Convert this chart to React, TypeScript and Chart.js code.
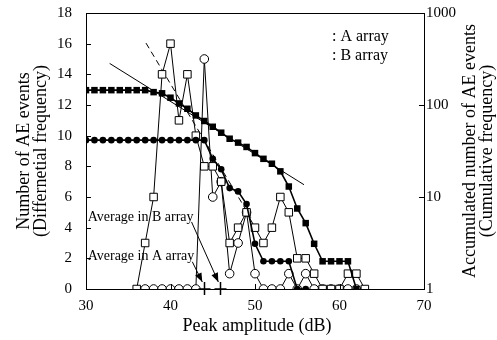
import React, { useEffect, useRef } from "react";
import { Chart, registerables } from "chart.js";

Chart.register(...registerables);

// ---- data ----
const amplitudeDiffB = [36, 37, 38, 39, 40, 41, 42, 43, 44, 45, 46, 47, 48, 49, 50, 51, 52, 53, 54, 55, 56, 57, 58, 59, 60, 61, 62, 63];
const diffB = [0, 3, 6, 14, 16, 11, 14, 10, 8, 8, 7, 3, 4, 5, 4, 3, 4, 6, 5, 2, 2, 1, 0, 0, 0, 1, 1, 0];

const amplitudeDiffA = [37, 38, 39, 40, 41, 42, 43, 44, 45, 46, 47, 48, 49, 50, 51, 52, 53, 54, 55, 56, 57, 58, 59, 60, 61, 62];
const diffA = [0, 0, 0, 0, 0, 0, 0, 15, 6, 7, 1, 3, 5, 1, 0, 0, 0, 1, 0, 1, 0, 0, 0, 0, 0, 0];

const amplitudeCumB = [30, 31, 32, 33, 34, 35, 36, 37, 38, 39, 40, 41, 42, 43, 44, 45, 46, 47, 48, 49, 50, 51, 52, 53, 54, 55, 56, 57, 58, 59, 60, 61, 62];
const cumB = [145, 145, 145, 145, 145, 145, 145, 145, 138, 134, 120, 104, 91, 77, 67, 58, 50, 43, 39, 35, 30, 26, 23, 19, 13, 7.5, 5.2, 3.1, 2, 2, 2, 2, 1];

const amplitudeCumA = [30, 31, 32, 33, 34, 35, 36, 37, 38, 39, 40, 41, 42, 43, 44, 45, 46, 47, 48, 49, 50, 51, 52, 53, 54, 55, 56];
const cumA = [41.5, 41.5, 41.5, 41.5, 41.5, 41.5, 41.5, 41.5, 41.5, 41.5, 41.5, 41.5, 41.5, 41.5, 41.5, 26, 20, 12.5, 11.5, 8.4, 3.1, 2, 2, 2, 2, 1, 1];

const fitAx = [37.1, 49.5];
const fitAy = [471, 5.95];
const fitBx = [32.8, 55.8];
const fitBy = [283, 13.6];

const averageA = 44.0;
const averageB = 45.9;

const xTicks = [30, 40, 50, 60, 70];
const yTicks = [0, 2, 4, 6, 8, 10, 12, 14, 16, 18];
const y2Ticks = [1, 10, 100, 1000];

const legendLabels = [": A array", ": B array"];
const avgLabels = ["Average in A array", "Average in B array"];

const SERIF = "'Liberation Serif', 'Times New Roman', serif";

const toXY = (xs: number[], ys: number[]) => xs.map((x, i) => ({ x, y: ys[i] }));

const overlay = {
  id: "overlay",
  afterDraw(chart: any) {
    const { ctx, chartArea: ca, scales } = chart;
    const xs = scales.x, ys = scales.y, y2 = scales.y2;
    ctx.save();
    ctx.strokeStyle = "#000";
    ctx.fillStyle = "#000";
    ctx.lineWidth = 1;
    // frame
    ctx.strokeRect(Math.round(ca.left) + 0.5, Math.round(ca.top) + 0.5, Math.round(ca.right - ca.left), Math.round(ca.bottom - ca.top));
    // inner ticks
    ctx.beginPath();
    yTicks.forEach((v) => {
      const p = Math.round(ys.getPixelForValue(v)) + 0.5;
      ctx.moveTo(ca.left, p); ctx.lineTo(ca.left + 5, p);
    });
    y2Ticks.forEach((v) => {
      const p = Math.round(y2.getPixelForValue(v)) + 0.5;
      ctx.moveTo(ca.right, p); ctx.lineTo(ca.right - 5, p);
    });
    xTicks.forEach((v) => {
      const p = Math.round(xs.getPixelForValue(v)) + 0.5;
      ctx.moveTo(p, ca.bottom); ctx.lineTo(p, ca.bottom - 5);
    });
    ctx.stroke();

    // average marks
    const base = ys.getPixelForValue(0);
    ctx.lineWidth = 1.5;
    ctx.beginPath();
    [averageA, averageB].forEach((v) => {
      const p = Math.round(xs.getPixelForValue(v)) + 0.5;
      ctx.moveTo(p, base - 7); ctx.lineTo(p, base + 6);
      ctx.moveTo(p - 6, base); ctx.lineTo(p + 6, base);
    });
    ctx.stroke();

    // annotation text + arrows
    ctx.font = "14px " + SERIF;
    ctx.textBaseline = "middle";
    ctx.textAlign = "left";
    const textX = xs.getPixelForValue(30.2);
    const rows = [
      { label: avgLabels[0], y: ys.getPixelForValue(2.1), avg: averageA },
      { label: avgLabels[1], y: ys.getPixelForValue(4.7), avg: averageB },
    ];
    rows.forEach((r) => {
      ctx.fillText(r.label, textX, r.y);
      const w = ctx.measureText(r.label).width;
      const sx = textX + w - 2, sy = r.y + 5;
      const ex = xs.getPixelForValue(r.avg) - 2, ey = base - 7;
      ctx.lineWidth = 1;
      ctx.beginPath();
      ctx.moveTo(sx, sy); ctx.lineTo(ex, ey);
      ctx.stroke();
      const ang = Math.atan2(ey - sy, ex - sx);
      const L = 9, W = 3.5;
      ctx.beginPath();
      ctx.moveTo(ex, ey);
      ctx.lineTo(ex - L * Math.cos(ang) + W * Math.sin(ang), ey - L * Math.sin(ang) - W * Math.cos(ang));
      ctx.lineTo(ex - L * Math.cos(ang) - W * Math.sin(ang), ey - L * Math.sin(ang) + W * Math.cos(ang));
      ctx.closePath();
      ctx.fill();
    });

    // legend text
    ctx.font = "16px " + SERIF;
    ctx.fillText(legendLabels[0], 332, 37);
    ctx.fillText(legendLabels[1], 332, 56);

    // axis titles
    ctx.font = "18px " + SERIF;
    ctx.textAlign = "center";
    ctx.textBaseline = "alphabetic";
    const midY = (ca.top + ca.bottom) / 2;
    ctx.fillText("Peak amplitude (dB)", (ca.left + ca.right) / 2 + 2, 331);
    ctx.save();
    ctx.translate(29, midY);
    ctx.rotate(-Math.PI / 2);
    ctx.fillText("Number of AE events", 0, 0);
    ctx.fillText("(Differnetial frequency)", 0, 17);
    ctx.restore();
    ctx.save();
    ctx.translate(475, midY);
    ctx.rotate(-Math.PI / 2);
    ctx.fillText("Accumulated number of AE events", 0, 0);
    ctx.fillText("(Cumulative frequency)", 0, 17);
    ctx.restore();
    ctx.restore();
  },
};

export default function App() {
  const ref = useRef<HTMLCanvasElement | null>(null);
  useEffect(() => {
    if (!ref.current) return;
    const tickFont = { family: SERIF, size: 15 };
    const chart = new Chart(ref.current, {
      type: "line",
      data: {
        datasets: [
          {
            label: "A cumulative",
            data: toXY(amplitudeCumA, cumA),
            yAxisID: "y2",
            borderColor: "#000",
            borderWidth: 1.6,
            pointStyle: "circle",
            pointRadius: 3.3,
            pointBackgroundColor: "#000",
            pointBorderColor: "#000",
            pointBorderWidth: 0,
          },
          {
            label: "B cumulative",
            data: toXY(amplitudeCumB, cumB),
            yAxisID: "y2",
            borderColor: "#000",
            borderWidth: 1.6,
            pointStyle: "rect",
            pointRadius: 4.6,
            pointBackgroundColor: "#000",
            pointBorderColor: "#000",
            pointBorderWidth: 0,
          },
          {
            label: "B array",
            data: toXY(amplitudeDiffB, diffB),
            yAxisID: "y",
            borderColor: "#000",
            borderWidth: 1,
            pointStyle: "rect",
            pointRadius: 5.3,
            pointBackgroundColor: "#fff",
            pointBorderColor: "#000",
            pointBorderWidth: 1,
          },
          {
            label: "A array",
            data: toXY(amplitudeDiffA, diffA),
            yAxisID: "y",
            borderColor: "#000",
            borderWidth: 1,
            pointStyle: "circle",
            pointRadius: 4.3,
            pointBackgroundColor: "#fff",
            pointBorderColor: "#000",
            pointBorderWidth: 1,
          },
          {
            label: "fit A",
            data: toXY(fitAx, fitAy),
            yAxisID: "y2",
            borderColor: "#000",
            borderWidth: 1,
            borderDash: [6, 4],
            pointRadius: 0,
          },
          {
            label: "fit B",
            data: toXY(fitBx, fitBy),
            yAxisID: "y2",
            borderColor: "#000",
            borderWidth: 1,
            pointRadius: 0,
          },
        ],
      },
      options: {
        animation: false,
        responsive: false,
        layout: { padding: { top: 13, left: 0, right: 0, bottom: 0 } },
        plugins: { legend: { display: false }, tooltip: { enabled: false } },
        scales: {
          x: {
            type: "linear",
            min: 30,
            max: 70,
            afterBuildTicks: (s: any) => { s.ticks = xTicks.map((v) => ({ value: v })); },
            afterFit: (s: any) => { s.height = 51; s.paddingLeft = 0; s.paddingRight = 0; },
            grid: { display: false, drawTicks: false },
            border: { display: false },
            ticks: { font: tickFont, color: "#000", padding: 8, maxRotation: 0 },
          },
          y: {
            type: "linear",
            position: "left",
            min: 0,
            max: 18,
            afterBuildTicks: (s: any) => { s.ticks = yTicks.map((v) => ({ value: v })); },
            afterFit: (s: any) => { s.width = 86; s.paddingTop = 0; s.paddingBottom = 0; },
            grid: { display: false, drawTicks: false },
            border: { display: false },
            ticks: { font: tickFont, color: "#000", padding: 14 },
          },
          y2: {
            type: "logarithmic",
            position: "right",
            min: 1,
            max: 1000,
            afterBuildTicks: (s: any) => { s.ticks = y2Ticks.map((v) => ({ value: v })); },
            afterFit: (s: any) => { s.width = 73; s.paddingTop = 0; s.paddingBottom = 0; },
            grid: { display: false, drawTicks: false },
            border: { display: false },
            ticks: { font: tickFont, color: "#000", padding: 2, callback: (v: any) => String(v) },
          },
        },
      },
      plugins: [overlay],
    });
    return () => chart.destroy();
  }, []);
  return (
    <div style={{ position: "absolute", left: 0, top: 0, width: 497, height: 340, background: "#fff" }}>
      <canvas ref={ref} width={497} height={340} />
    </div>
  );
}
